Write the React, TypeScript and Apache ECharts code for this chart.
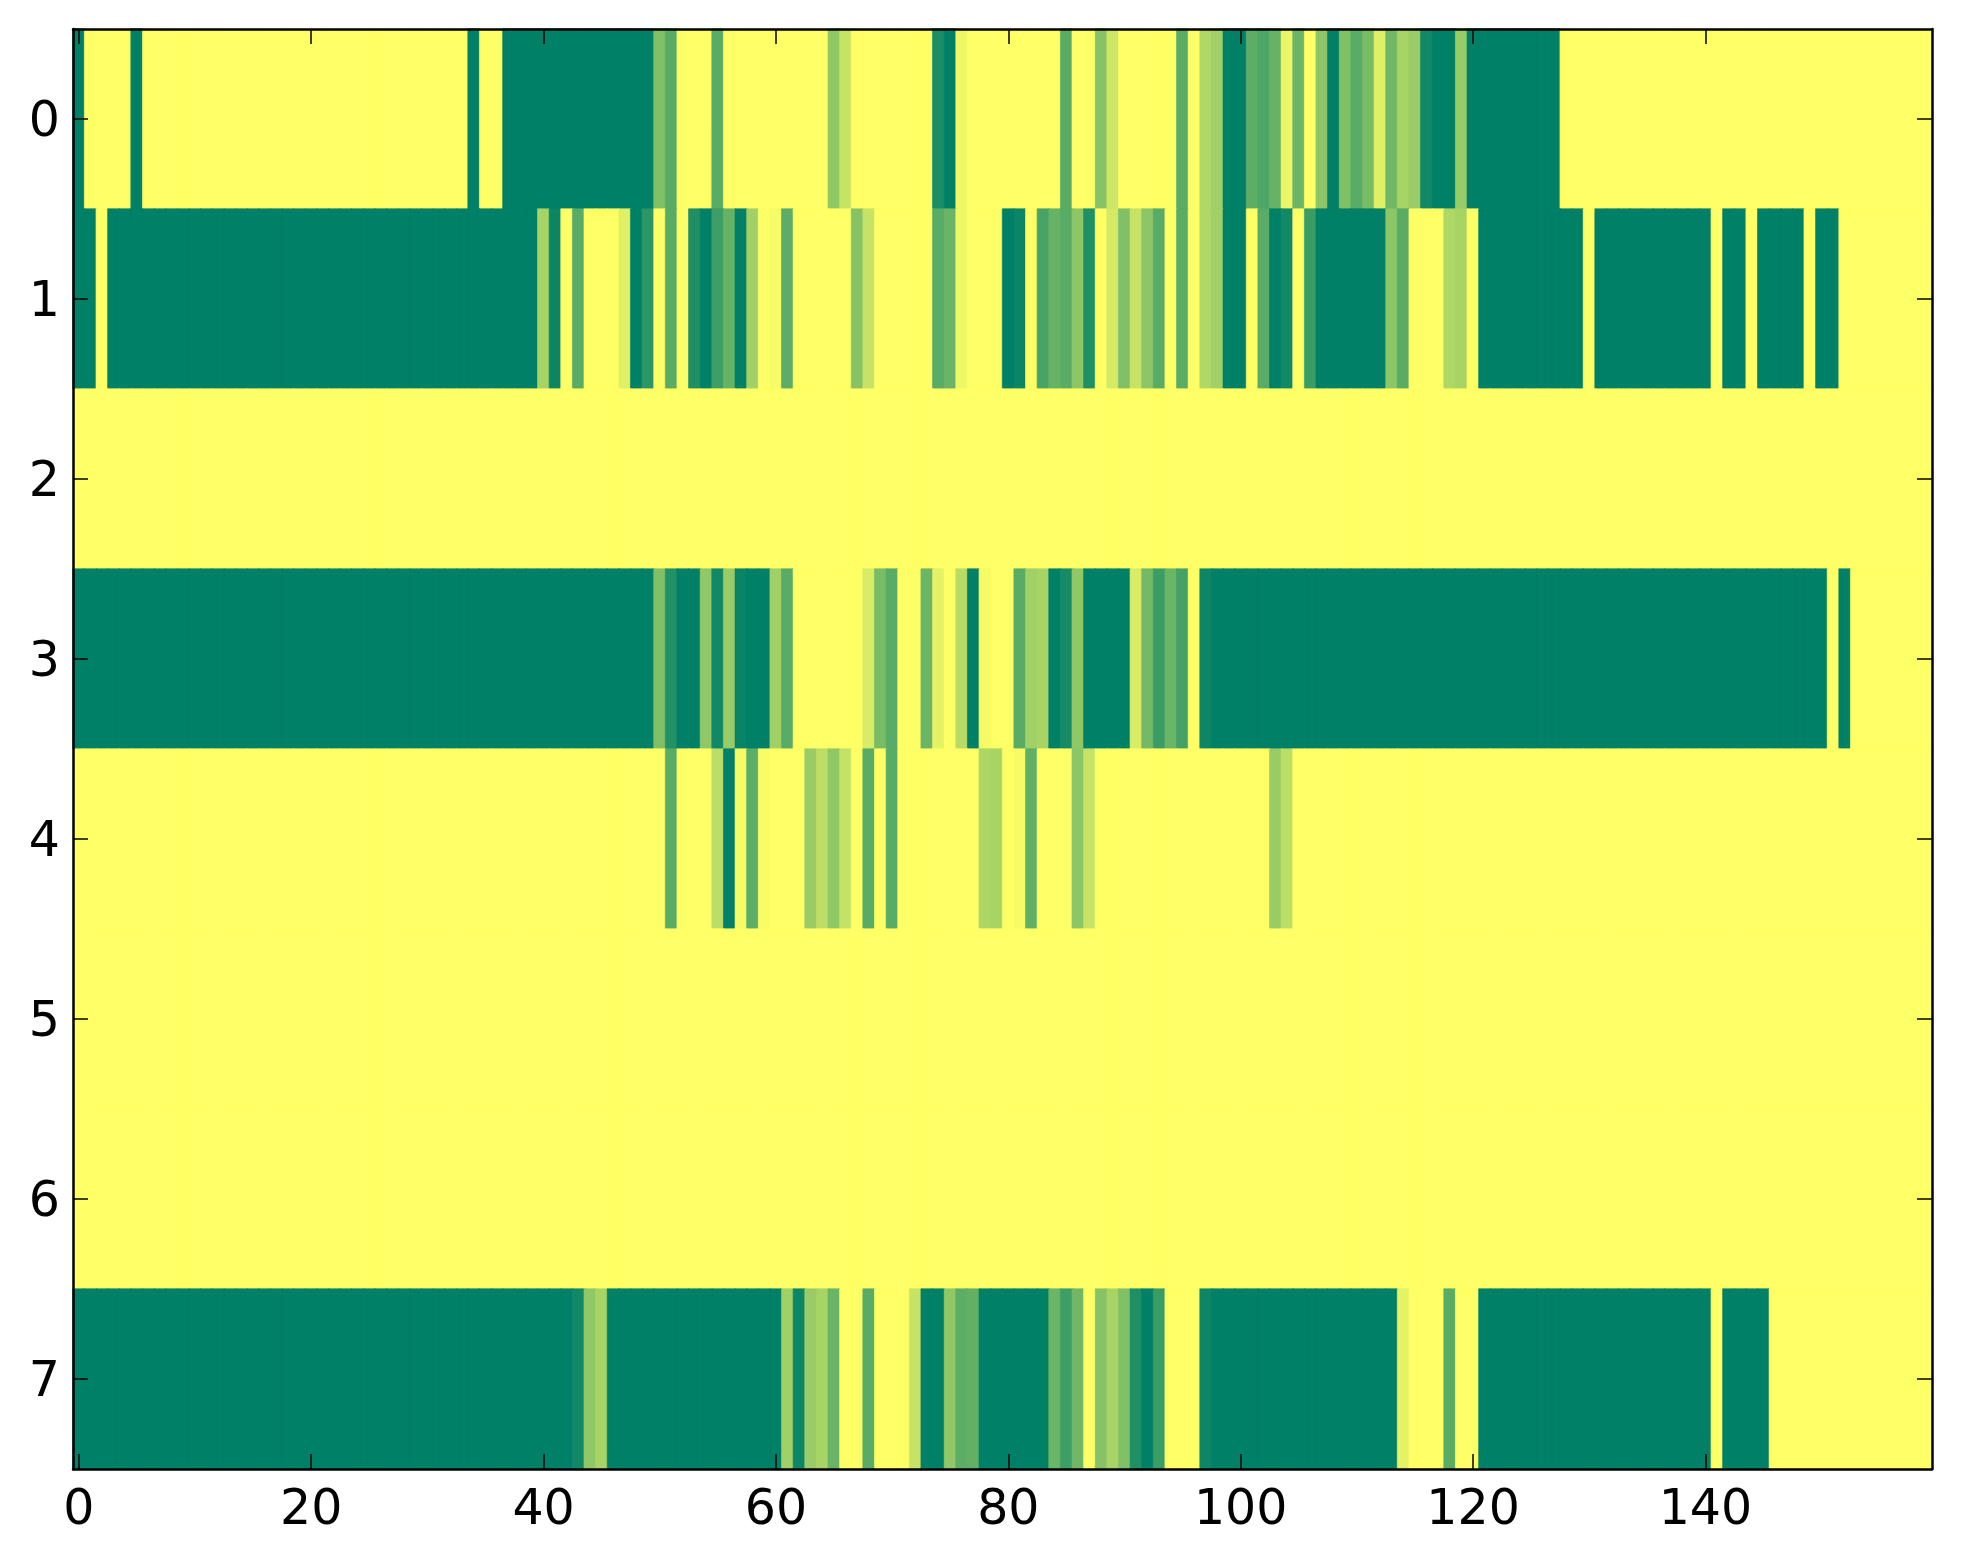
import React, { useEffect, useRef } from "react";
import * as echarts from "echarts";

// Column categories 0..159 and row categories 0..7
const columnLabels: string[] = Array.from({ length: 160 }, (_, i) => String(i));
const rowLabels: string[] = ["0", "1", "2", "3", "4", "5", "6", "7"];

const row0: number[] = [
  0,1,1,1,1,0,1,1,1,1,
  1,1,1,1,1,1,1,1,1,1,
  1,1,1,1,1,1,1,1,1,1,
  1,1,1,1,0,1,1,0,0,0,
  0,0,0,0,0,0,0,0,0,0,
  0.5,0.35,1,1,1,0.35,1,1,1,1,
  1,1,1,1,1,0.57,0.78,1,1,1,
  1,1,1,1,0.1,0,0.94,1,1,1,
  1,1,1,1,1,0.35,1,1,0.53,0.8,
  1,1,1,1,1,0.35,1,0.69,0.63,0,
  0,0.36,0.3,0.4,0.92,0.42,1,0.55,0,0.5,
  0.35,0.47,0.88,0.44,0.66,0.6,0.07,0,0,0.6,
  0,0,0,0,0,0,0,0,1,1,
  1,1,1,1,1,1,1,1,1,1,
  1,1,1,1,1,1,1,1,1,1,
  1,1,1,1,1,1,1,1,1,1,
];

const row1: number[] = [
  0,0,1,0,0,0,0,0,0,0,
  0,0,0,0,0,0,0,0,0,0,
  0,0,0,0,0,0,0,0,0,0,
  0,0,0,0,0,0,0,0,0,0,
  0.66,0.04,1,0.35,1,1,1,0.88,0,0.17,
  1,0.35,1,0.12,0,0.24,0.4,0,0.63,1,
  0.97,0.36,1,1,1,1,1,0.53,0.78,1,
  1,1,1,1,0.35,0.41,0.94,1,1,1,
  0,0.04,1,0.28,0.4,0.35,0.55,0.12,1,0.83,
  0.5,0.78,0.55,0.35,1,0.35,1,0.69,0.63,0,
  0,1,0.35,0,0.07,1,0.23,0,0,0,
  0,0,0,0.55,0.35,1,1,1,0.69,0.66,
  1,0,0,0,0,0,0,0,0,0,
  1,0,0,0,0,0,0,0,0,0,
  0,1,0,0,1,0,0,0,0,1,
  0,0,1,1,1,1,1,1,1,1,
];

const row2: number[] = [
  1,1,1,1,1,1,1,1,1,1,
  1,1,1,1,1,1,1,1,1,1,
  1,1,1,1,1,1,1,1,1,1,
  1,1,1,1,1,1,1,1,1,1,
  1,1,1,1,1,1,1,1,1,1,
  1,1,1,1,1,1,1,1,1,1,
  1,1,1,1,1,1,1,1,1,1,
  1,1,1,1,1,1,1,1,1,1,
  1,1,1,1,1,1,1,1,1,1,
  1,1,1,1,1,1,1,1,1,1,
  1,1,1,1,1,1,1,1,1,1,
  1,1,1,1,1,1,1,1,1,1,
  1,1,1,1,1,1,1,1,1,1,
  1,1,1,1,1,1,1,1,1,1,
  1,1,1,1,1,1,1,1,1,1,
  1,1,1,1,1,1,1,1,1,1,
];

const row3: number[] = [
  0,0,0,0,0,0,0,0,0,0,
  0,0,0,0,0,0,0,0,0,0,
  0,0,0,0,0,0,0,0,0,0,
  0,0,0,0,0,0,0,0,0,0,
  0,0,0,0,0,0,0,0,0,0,
  0.5,0.13,0,0,0.57,0.07,0.6,0.03,0,0,
  0.63,0.35,1,1,1,1,1,1,0.85,0.47,
  0.35,1,1,0.42,0.9,1,0.72,0,0.96,1,
  1,0.35,0.63,0.66,0,0.09,0.57,0,0,0,
  0,0.85,0.45,0.23,0.42,0.27,1,0.05,0,0,
  0,0,0,0,0,0,0,0,0,0,
  0,0,0,0,0,0,0,0,0,0,
  0,0,0,0,0,0,0,0,0,0,
  0,0,0,0,0,0,0,0,0,0,
  0,0,0,0,0,0,0,0,0,0,
  0,1,0,1,1,1,1,1,1,1,
];

const row4: number[] = [
  1,1,1,1,1,1,1,1,1,1,
  1,1,1,1,1,1,1,1,1,1,
  1,1,1,1,1,1,1,1,1,1,
  1,1,1,1,1,1,1,1,1,1,
  1,1,1,1,1,1,1,1,1,1,
  1,0.35,1,1,1,0.74,0,0.96,0.36,0.98,
  1,1,1,0.6,0.74,0.57,0.77,1,0.35,1,
  0.35,1,1,1,1,1,1,1,0.68,0.66,
  1,0.97,0.38,1,1,1,0.55,0.78,1,1,
  1,1,1,1,1,1,1,1,1,1,
  1,1,1,0.6,0.74,1,1,1,1,1,
  1,1,1,1,1,1,1,1,1,1,
  1,1,1,1,1,1,1,1,1,1,
  1,1,1,1,1,1,1,1,1,1,
  1,1,1,1,1,1,1,1,1,1,
  1,1,1,1,1,1,1,1,1,1,
];

const row5: number[] = [
  1,1,1,1,1,1,1,1,1,1,
  1,1,1,1,1,1,1,1,1,1,
  1,1,1,1,1,1,1,1,1,1,
  1,1,1,1,1,1,1,1,1,1,
  1,1,1,1,1,1,1,1,1,1,
  1,1,1,1,1,1,1,1,1,1,
  1,1,1,1,1,1,1,1,1,1,
  1,1,1,1,1,1,1,1,1,1,
  1,1,1,1,1,1,1,1,1,1,
  1,1,1,1,1,1,1,1,1,1,
  1,1,1,1,1,1,1,1,1,1,
  1,1,1,1,1,1,1,1,1,1,
  1,1,1,1,1,1,1,1,1,1,
  1,1,1,1,1,1,1,1,1,1,
  1,1,1,1,1,1,1,1,1,1,
  1,1,1,1,1,1,1,1,1,1,
];

const row6: number[] = [
  1,1,1,1,1,1,1,1,1,1,
  1,1,1,1,1,1,1,1,1,1,
  1,1,1,1,1,1,1,1,1,1,
  1,1,1,1,1,1,1,1,1,1,
  1,1,1,1,1,1,1,1,1,1,
  1,1,1,1,1,1,1,1,1,1,
  1,1,1,1,1,1,1,1,1,1,
  1,1,1,1,1,1,1,1,1,1,
  1,1,1,1,1,1,1,1,1,1,
  1,1,1,1,1,1,1,1,1,1,
  1,1,1,1,1,1,1,1,1,1,
  1,1,1,1,1,1,1,1,1,1,
  1,1,1,1,1,1,1,1,1,1,
  1,1,1,1,1,1,1,1,1,1,
  1,1,1,1,1,1,1,1,1,1,
  1,1,1,1,1,1,1,1,1,1,
];

const row7: number[] = [
  0,0,0,0,0,0,0,0,0,0,
  0,0,0,0,0,0,0,0,0,0,
  0,0,0,0,0,0,0,0,0,0,
  0,0,0,0,0,0,0,0,0,0,
  0,0,0,0.07,0.57,0.66,0,0,0,0,
  0,0,0,0,0,0,0,0,0,0,
  0,0.63,0.05,0.6,0.66,0.41,1,1,0.35,1,
  1,1,0.78,0,0,0.57,0.36,0.38,0,0,
  0,0,0,0,0.42,0.24,0.44,1,0.53,0.66,
  0.5,0.12,0,0.23,1,1,1,0.05,0,0,
  0,0,0,0,0,0,0,0,0,0,
  0,0,0,0,0.9,1,1,1,0.35,1,
  1,0,0,0,0,0,0,0,0,0,
  0,0,0,0,0,0,0,0,0,0,
  0,1,0,0,0,0,1,1,1,1,
  1,1,1,1,1,1,1,1,1,1,
];

const rows: number[][] = [row0, row1, row2, row3, row4, row5, row6, row7];

// matplotlib "summer" colormap endpoints: (0, 0.5, 0.4) -> (1, 1, 0.4)
const SUMMER_LOW = "rgb(0,128,102)";
const SUMMER_HIGH = "rgb(255,255,102)";

function summer(v: number): string {
  const r = Math.round(255 * v);
  const g = Math.round(255 * (0.5 + 0.5 * v));
  return `rgb(${r},${g},102)`;
}

const FONT = "DejaVu Sans";
const LABEL_SIZE = 49;

export default function App() {
  const ref = useRef<HTMLDivElement>(null);

  useEffect(() => {
    document.body.style.margin = "0";
    if (!ref.current) return;
    const chart = echarts.init(ref.current, undefined, { renderer: "svg" });

    const data: any[] = [];
    rows.forEach((row, y) => {
      row.forEach((v, x) => {
        const c = summer(v);
        data.push({
          value: [x, y, v],
          itemStyle: { borderColor: c, borderWidth: 0.6 },
        });
      });
    });

    const every20 = (i: number) => i % 20 === 0;
    const tickCommon = {
      show: true,
      inside: true,
      length: 15,
      alignWithLabel: true,
      lineStyle: { color: "#000", width: 1.5 },
    };
    const lineCommon = { show: true, onZero: false, lineStyle: { color: "#000", width: 2.5 } };

    chart.setOption({
      animation: false,
      backgroundColor: "#ffffff",
      grid: { left: 73, right: 31, top: 29, bottom: 95, containLabel: false },
      visualMap: {
        show: false,
        type: "continuous",
        min: 0,
        max: 1,
        dimension: 2,
        seriesIndex: 0,
        inRange: { color: [SUMMER_LOW, SUMMER_HIGH] },
      },
      xAxis: [
        {
          type: "category",
          data: columnLabels,
          position: "bottom",
          z: 10,
          axisLine: lineCommon,
          axisTick: { ...tickCommon, interval: every20 },
          axisLabel: {
            show: true,
            interval: every20,
            fontSize: LABEL_SIZE,
            fontFamily: FONT,
            color: "#000",
            margin: 14,
          },
          splitLine: { show: false },
        },
        {
          type: "category",
          data: columnLabels,
          position: "top",
          z: 10,
          axisLine: lineCommon,
          axisTick: { ...tickCommon, interval: every20 },
          axisLabel: { show: false },
          splitLine: { show: false },
        },
      ],
      yAxis: [
        {
          type: "category",
          data: rowLabels,
          inverse: true,
          position: "left",
          z: 10,
          axisLine: lineCommon,
          axisTick: { ...tickCommon },
          axisLabel: {
            show: true,
            fontSize: LABEL_SIZE,
            fontFamily: FONT,
            color: "#000",
            margin: 13,
          },
          splitLine: { show: false },
        },
        {
          type: "category",
          data: rowLabels,
          inverse: true,
          position: "right",
          z: 10,
          axisLine: lineCommon,
          axisTick: { ...tickCommon },
          axisLabel: { show: false },
          splitLine: { show: false },
        },
      ],
      series: [
        {
          type: "heatmap",
          xAxisIndex: 0,
          yAxisIndex: 0,
          data,
          emphasis: { disabled: true },
          label: { show: false },
        },
      ],
    });

    return () => chart.dispose();
  }, []);

  return (
    <div
      ref={ref}
      style={{ position: "absolute", left: 0, top: 0, width: 1963, height: 1564 }}
    />
  );
}
